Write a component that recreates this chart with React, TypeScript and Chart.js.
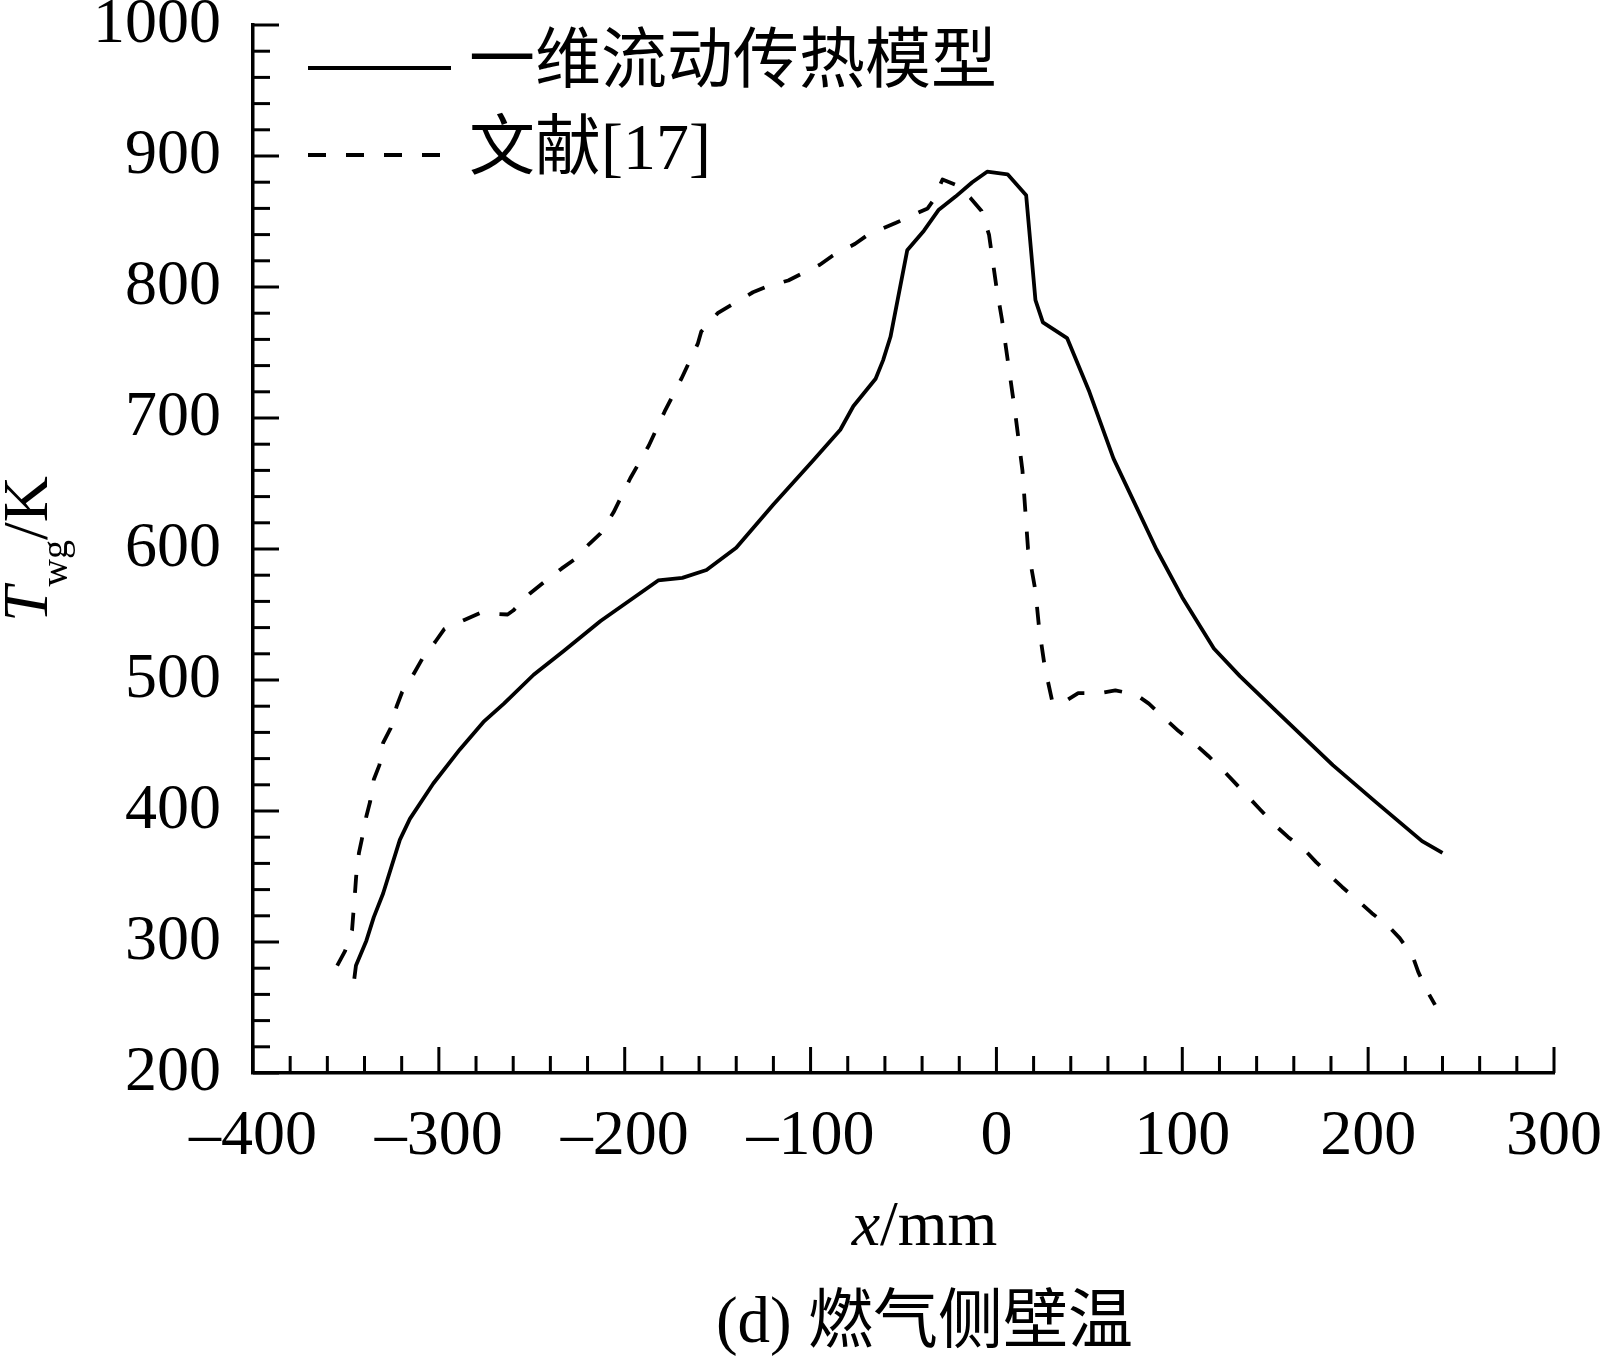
import React, { useEffect, useRef } from 'react';
import { Chart, registerables } from 'chart.js';

Chart.register(...registerables);

// 一维流动传热模型 (solid)
const modelX = [-345.5, -344.6, -339, -335, -330, -321, -315.6, -303, -288.7, -276, -265, -249, -233, -213, -182, -169, -156, -140, -120, -99, -84, -77, -65, -61, -57, -48, -39, -31, -22, -13, -5, 6, 16, 21, 25, 38, 50, 63, 73, 86, 100, 117, 131, 150, 181, 204, 229, 240];
const modelT = [272, 282, 301, 319, 337, 378, 394, 421, 447, 468, 482, 504, 522, 545, 576, 578, 584, 601, 634, 667, 691, 709, 730, 744, 762, 828, 843, 859, 869, 880, 888, 886, 870, 790, 773, 761, 720, 669, 639, 600, 563, 524, 503, 477, 435, 407, 377, 368];

// 文献[17] (dashed)
const refX = [-354.7, -350.5, -346.7, -346, -345, -344.5, -343, -341.5, -339, -337, -335, -332, -330, -326, -322.7, -319.7, -313.8, -309, -302, -297, -286, -278, -263, -260, -251, -244, -234, -227, -219, -213, -206, -197, -187, -178.5, -169.5, -160.6, -158.8, -150, -143, -131, -124, -112, -105, -95, -88, -76, -69, -54, -37, -34, -29, -22, -14, -8, -4, 0, 3, 7, 10, 14, 17, 21, 23, 26, 30, 34, 44, 56, 64, 75, 82, 91, 98, 107, 114, 122, 128, 136, 142, 150, 157, 166, 172, 180, 186, 195, 202, 211, 217, 224, 227, 232, 236];
const refT = [282, 293, 309, 322, 340, 350, 368, 378, 396, 407, 424, 435, 452, 463, 480, 491, 504, 516, 529, 539, 546, 551, 550, 553, 566, 574, 585, 592, 604, 612, 628, 654, 679, 705, 730, 757, 766, 780, 786, 796, 800, 805, 810, 817, 824, 833, 840, 849, 860, 866, 882, 878, 868, 858, 840, 800, 775, 735, 705, 660, 600, 568, 539, 510, 484, 481, 490, 490, 492, 489, 482, 470, 461, 451, 442, 431, 422, 410, 401, 389, 380, 370, 361, 350, 342, 331, 322, 312, 303, 289, 277, 262, 252];

const xTickValues = [-400, -300, -200, -100, 0, 100, 200, 300];
const yTickValues = [200, 300, 400, 500, 600, 700, 800, 900, 1000];
const seriesLabels = ['一维流动传热模型', '文献[17]'];
const xTitle = ['x', '/mm'];
const yTitle = ['T', 'wg', '/K'];
const caption = '(d) 燃气侧壁温';

const SERIF = "'Liberation Serif', 'Noto Sans CJK SC', serif";

const decorPlugin = {
    id: 'decor',
    afterDraw(chart: any) {
        const { ctx, chartArea, scales } = chart;
        const xs = scales.x;
        const ys = scales.y;
        ctx.save();
        ctx.strokeStyle = '#000';
        ctx.fillStyle = '#000';
        ctx.lineWidth = 3;
        ctx.lineCap = 'butt';

        // inward ticks, minor every 20
        for (let v = xs.min; v <= xs.max + 0.01; v += 20) {
            const px = xs.getPixelForValue(v);
            const len = Math.abs(v % 100) < 0.01 ? 26 : 17;
            ctx.beginPath();
            ctx.moveTo(px, chartArea.bottom);
            ctx.lineTo(px, chartArea.bottom - len);
            ctx.stroke();
        }
        for (let v = ys.min; v <= ys.max + 0.01; v += 20) {
            const py = ys.getPixelForValue(v);
            const len = Math.abs(v % 100) < 0.01 ? 26 : 17;
            ctx.beginPath();
            ctx.moveTo(chartArea.left, py);
            ctx.lineTo(chartArea.left + len, py);
            ctx.stroke();
        }

        // legend inside the plot
        chart.data.datasets.forEach((ds: any, i: number) => {
            const y = chartArea.top + 43 + i * 87;
            const x0 = chartArea.left + 55;
            ctx.save();
            ctx.lineWidth = 3.8;
            ctx.setLineDash(ds.borderDash || []);
            ctx.beginPath();
            ctx.moveTo(x0, y);
            ctx.lineTo(x0 + 143, y);
            ctx.stroke();
            ctx.restore();
            ctx.font = `66px ${SERIF}`;
            ctx.textAlign = 'left';
            ctx.textBaseline = 'middle';
            ctx.fillText(ds.label, x0 + 161, y - 3);
        });

        // x axis title: italic x + /mm
        const cx = (chartArea.left + chartArea.right) / 2 + 21;
        ctx.textBaseline = 'alphabetic';
        ctx.font = `italic 64px ${SERIF}`;
        const wX = ctx.measureText(xTitle[0]).width;
        ctx.font = `64px ${SERIF}`;
        const wUnit = ctx.measureText(xTitle[1]).width;
        const sx = cx - (wX + wUnit) / 2;
        const by = chartArea.bottom + 172;
        ctx.textAlign = 'left';
        ctx.font = `italic 64px ${SERIF}`;
        ctx.fillText(xTitle[0], sx, by);
        ctx.font = `64px ${SERIF}`;
        ctx.fillText(xTitle[1], sx + wX, by);

        // caption
        ctx.textAlign = 'center';
        ctx.font = `65px ${SERIF}`;
        ctx.fillText(caption, cx, chartArea.bottom + 269);

        // y axis title: italic T, subscript wg, /K
        ctx.save();
        ctx.translate(47, (chartArea.top + chartArea.bottom) / 2);
        ctx.rotate(-Math.PI / 2);
        ctx.textAlign = 'left';
        ctx.font = `italic 64px ${SERIF}`;
        const wT = ctx.measureText(yTitle[0]).width;
        ctx.font = `38px ${SERIF}`;
        const wSub = ctx.measureText(yTitle[1]).width;
        ctx.font = `64px ${SERIF}`;
        const wK = ctx.measureText(yTitle[2]).width;
        let tx = -(wT + wSub + wK) / 2;
        ctx.font = `italic 64px ${SERIF}`;
        ctx.fillText(yTitle[0], tx, 0);
        tx += wT;
        ctx.font = `38px ${SERIF}`;
        ctx.fillText(yTitle[1], tx, 20);
        tx += wSub;
        ctx.font = `64px ${SERIF}`;
        ctx.fillText(yTitle[2], tx, 0);
        ctx.restore();

        ctx.restore();
    },
};

const App: React.FC = () => {
    const canvasRef = useRef<HTMLCanvasElement | null>(null);
    const chartRef = useRef<Chart | null>(null);

    useEffect(() => {
        if (!canvasRef.current) return;
        if (chartRef.current) chartRef.current.destroy();

        const zeroPad = (scale: any) => {
            scale.paddingLeft = 0;
            scale.paddingRight = 0;
            scale.paddingTop = 0;
            scale.paddingBottom = 0;
        };

        chartRef.current = new Chart(canvasRef.current, {
            type: 'line',
            data: {
                datasets: [
                    {
                        label: seriesLabels[0],
                        data: modelX.map((x, i) => ({ x, y: modelT[i] })),
                        borderColor: '#000',
                        borderWidth: 3.8,
                        pointRadius: 0,
                        tension: 0,
                        borderJoinStyle: 'round',
                        fill: false,
                    },
                    {
                        label: seriesLabels[1],
                        data: refX.map((x, i) => ({ x, y: refT[i] })),
                        borderColor: '#000',
                        borderWidth: 3.8,
                        borderDash: [18, 20],
                        pointRadius: 0,
                        tension: 0,
                        borderJoinStyle: 'round',
                        fill: false,
                    },
                ],
            },
            options: {
                responsive: false,
                animation: false,
                events: [],
                layout: { padding: { left: 0, right: 52, top: 25, bottom: 0 } },
                plugins: {
                    legend: { display: false },
                    tooltip: { enabled: false },
                    title: { display: false },
                },
                scales: {
                    x: {
                        type: 'linear',
                        min: -400,
                        max: 300,
                        afterBuildTicks: (scale: any) => {
                            scale.ticks = xTickValues.map((v) => ({ value: v }));
                        },
                        afterFit: (scale: any) => {
                            scale.height = 285;
                            zeroPad(scale);
                        },
                        grid: { drawOnChartArea: false, drawTicks: false },
                        border: { color: '#000', width: 3.5 },
                        ticks: {
                            padding: 26,
                            color: '#000',
                            maxRotation: 0,
                            autoSkip: false,
                            font: { family: SERIF, size: 64 },
                            callback: (v: any) => (Number(v) < 0 ? '–' + Math.abs(Number(v)) : String(v)),
                        },
                    },
                    y: {
                        type: 'linear',
                        min: 200,
                        max: 1000,
                        afterBuildTicks: (scale: any) => {
                            scale.ticks = yTickValues.map((v) => ({ value: v }));
                        },
                        afterFit: (scale: any) => {
                            scale.width = 253;
                            zeroPad(scale);
                        },
                        grid: { drawOnChartArea: false, drawTicks: false },
                        border: { color: '#000', width: 3.5 },
                        ticks: {
                            padding: 32,
                            color: '#000',
                            autoSkip: false,
                            font: { family: SERIF, size: 64 },
                            callback: (v: any) => String(v),
                        },
                    },
                },
            },
            plugins: [decorPlugin],
        } as any);

        return () => {
            if (chartRef.current) {
                chartRef.current.destroy();
                chartRef.current = null;
            }
        };
    }, []);

    return (
        <div style={{ position: 'fixed', left: 0, top: 0, width: 1606, height: 1358, background: '#fff' }}>
            <canvas ref={canvasRef} width={1606} height={1358} style={{ width: 1606, height: 1358 }}></canvas>
        </div>
    );
};

export default App;
